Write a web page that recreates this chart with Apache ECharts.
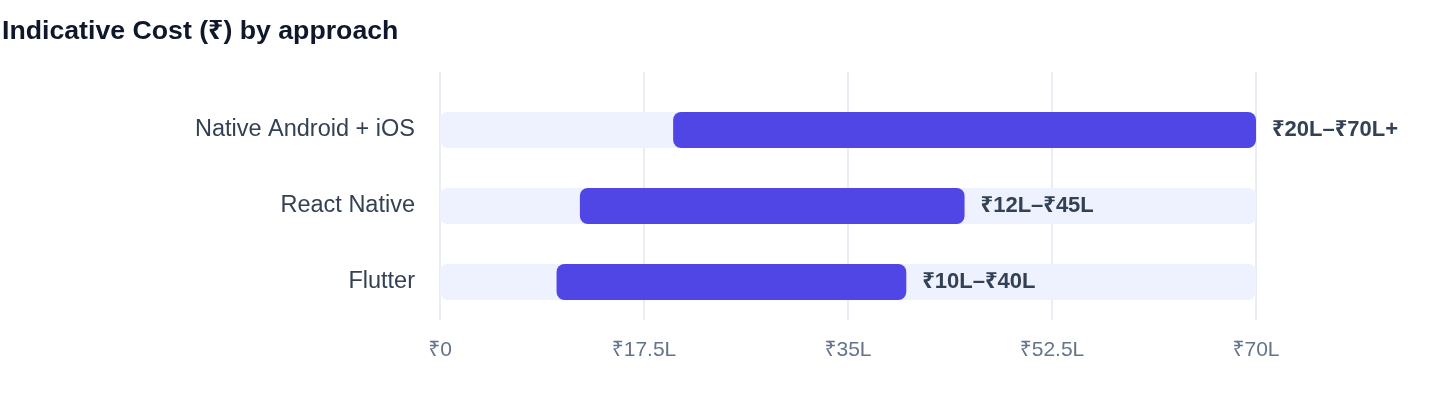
<!DOCTYPE html>
<html>
<head>
<meta charset="utf-8">
<script src="https://cdn.jsdelivr.net/npm/echarts@6/dist/echarts.min.js"></script>
<style>
    html, body { margin: 0; padding: 0; background: #fff; }
    #chart { width: 1440px; height: 408px; }
</style>
</head>
<body>
<div id="chart"></div>
<script>
var approaches = ["Native Android + iOS", "React Native", "Flutter"];
var costFrom = [20, 12, 10];
var costTo = [70, 45, 40];
var rangeLabels = ["₹20L–₹70L+", "₹12L–₹45L", "₹10L–₹40L"];
var tickStep = 17.5;
var axisMax = 70;

var FONT = "Helvetica, Arial, 'Liberation Sans', 'Noto Sans', sans-serif";

function tickText(v) {
    return v === 0 ? "₹0" : "₹" + v + "L";
}

var chart = echarts.init(document.getElementById("chart"));

chart.setOption({
    animation: false,
    textStyle: { fontFamily: FONT },
    title: {
        text: "Indicative Cost (₹) by approach",
        left: 2,
        top: 18,
        padding: 0,
        textStyle: { fontFamily: FONT, fontSize: 26.7, fontWeight: "bold", color: "#0f172a" }
    },
    grid: [
        { left: 440, right: 184, top: 92, bottom: 88, containLabel: false },
        { left: 440, right: 184, top: 72, bottom: 88, containLabel: false }
    ],
    xAxis: [
        {
            type: "value",
            gridIndex: 0,
            min: 0,
            max: axisMax,
            interval: tickStep,
            axisLine: { show: false },
            axisTick: { show: false },
            splitLine: { show: false },
            axisLabel: {
                formatter: tickText,
                color: "#64748b",
                fontSize: 21,
                margin: 20,
                fontFamily: FONT
            }
        },
        {
            type: "value",
            gridIndex: 1,
            min: 0,
            max: axisMax,
            interval: tickStep,
            axisLine: { show: false },
            axisTick: { show: false },
            axisLabel: { show: false },
            splitLine: { show: true, lineStyle: { color: "#e2e8f0", width: 1.5 } }
        }
    ],
    yAxis: [
        {
            type: "category",
            gridIndex: 0,
            data: approaches,
            inverse: true,
            axisLine: { show: false },
            axisTick: { show: false },
            axisLabel: { color: "#334155", fontSize: 23.5, margin: 25, fontFamily: FONT }
        },
        {
            type: "category",
            gridIndex: 1,
            data: approaches,
            show: false
        }
    ],
    series: [
        {
            name: "start",
            type: "bar",
            stack: "range",
            barWidth: 36,
            data: costFrom,
            itemStyle: { color: "transparent" },
            showBackground: true,
            backgroundStyle: { color: "#eef1fe", borderRadius: 8 },
            silent: true,
            z: 1
        },
        {
            name: "range",
            type: "bar",
            stack: "range",
            barWidth: 36,
            data: costTo.map(function (v, i) { return v - costFrom[i]; }),
            itemStyle: { color: "#4f46e5", borderRadius: 8 },
            label: {
                show: true,
                position: "right",
                distance: 16,
                formatter: function (p) { return rangeLabels[p.dataIndex]; },
                color: "#334155",
                fontSize: 22,
                fontWeight: "bold",
                fontFamily: FONT
            },
            z: 2
        }
    ]
});

window.addEventListener("resize", function () {
    chart.resize();
});
</script>
</body>
</html>
